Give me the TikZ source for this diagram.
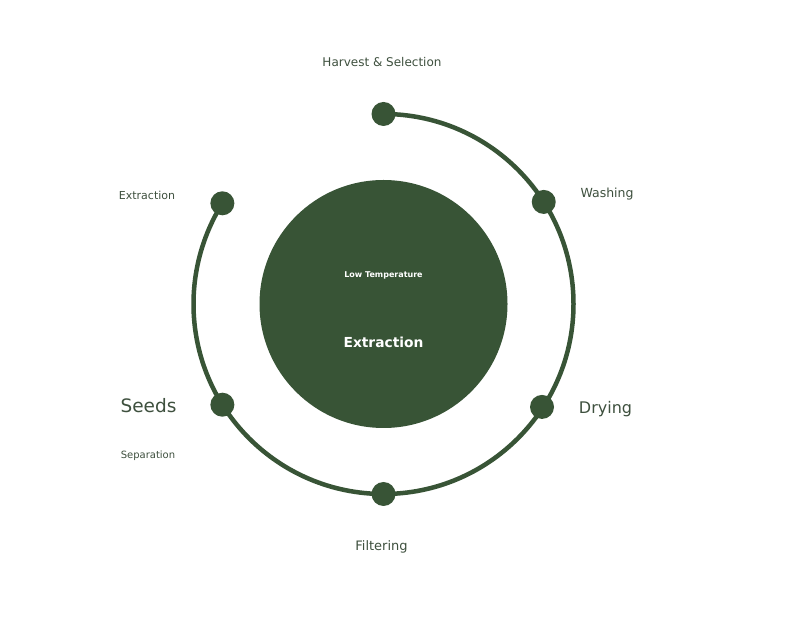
\documentclass[tikz,border=0pt]{standalone}
\usepackage{fontspec}
\setmainfont{DejaVu Sans}
\usetikzlibrary{calc}
\definecolor{dkgreen}{RGB}{56,84,54}
\definecolor{lbl}{RGB}{62,80,62}
\begin{document}
\begin{tikzpicture}[x=1pt,y=1pt,
  dot/.style={circle,fill=dkgreen,inner sep=0pt,minimum size=24pt},
  lab/.style={text=lbl,inner sep=0pt,anchor=center}]
\useasboundingbox (0,0) rectangle (800,621);
\fill[white] (0,0) rectangle (800,621);
\coordinate (c) at (383.5,317);
\node[circle,fill=dkgreen,minimum size=248pt,inner sep=0pt] (hub) at (c) {};
\draw[dkgreen,line width=4.5pt] (c) ++(90:190) arc[start angle=90,end angle=-212,radius=190];
\node[dot] (d1) at ($(c)+(90:190)$) {};
\node[dot] (d2) at ($(c)+(32.5:190)$) {};
\node[dot] (d3) at ($(c)+(-33:189)$) {};
\node[dot] (d4) at ($(c)+(-90:190)$) {};
\node[dot] (d5) at ($(c)+(212:190)$) {};
\node[dot] (d6) at ($(c)+(148:190)$) {};
\node[lab,font=\fontsize{12}{14}\selectfont] (t1) at (382,559) {Harvest \& Selection};
\node[lab,font=\fontsize{12.5}{15}\selectfont] (t2) at (607,426.5) {Washing};
\node[lab,font=\fontsize{16}{19}\selectfont] (t3) at (605.5,212) {Drying};
\node[lab,font=\fontsize{13}{15}\selectfont] (t4) at (381.5,74.5) {Filtering};
\node[lab,font=\fontsize{18.5}{22}\selectfont] (t5) at (148.5,215) {Seeds};
\node[lab,font=\fontsize{10}{12}\selectfont] (t6) at (148,165.5) {Separation};
\node[lab,font=\fontsize{11}{13}\selectfont] (t7) at (147,426) {Extraction};
\node[text=white,inner sep=0pt,font=\bfseries\fontsize{8}{9}\selectfont] (h1) at (383.5,345.5) {Low Temperature};
\node[text=white,inner sep=0pt,font=\bfseries\fontsize{13.8}{16}\selectfont] (h2) at (383.5,279) {Extraction};
\end{tikzpicture}
\end{document}
